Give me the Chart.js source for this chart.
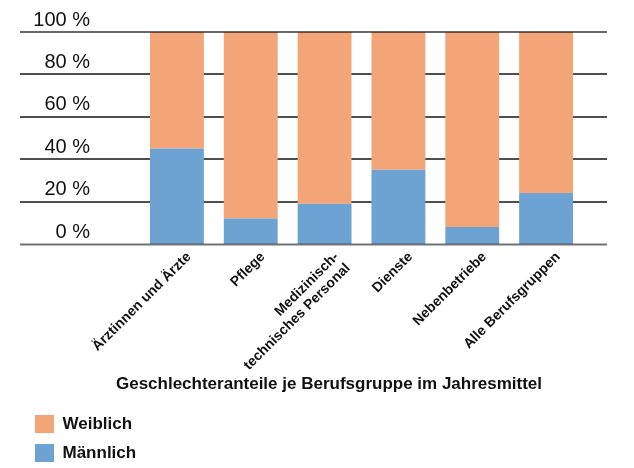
<!DOCTYPE html>
<html lang="de">
<head>
<meta charset="utf-8">
<title>Geschlechteranteile je Berufsgruppe</title>
<script src="https://cdn.jsdelivr.net/npm/chart.js@4.4.1/dist/chart.umd.min.js"></script>
<style>
  html, body { margin: 0; padding: 0; background: #fff; }
  #wrap { width: 634px; height: 468px; position: relative; }
</style>
</head>
<body>
<div id="wrap"><canvas id="chart"></canvas></div>
<script>
// Berufsgruppen (multi-line label as array)
const categories = [
  'Ärztinnen und Ärzte',
  'Pflege',
  ['Medizinisch-', 'technisches Personal'],
  'Dienste',
  'Nebenbetriebe',
  'Alle Berufsgruppen'
];

// Anteile in Prozent
const maennlich = [45, 12, 19, 35, 8, 24];
const weiblich  = [55, 88, 81, 65, 92, 76];

// Beschriftung der y-Achse
const yTickValues = [0, 20, 40, 60, 80, 100];
const yTickLabels = ['0 %', '20 %', '40 %', '60 %', '80 %', '100 %'];

const FONT = "'Liberation Sans', Arial, Helvetica, sans-serif";
const COLOR_W = '#F4A578';
const COLOR_M = '#6CA3D3';

// Invisible trailing spaces widen each legend entry so that the
// entries stack one per row instead of sharing a line.
const LEGEND_ROW_FILL = '\u2003'.repeat(24);

// Horizontal rules across the full plot width, at each y tick.
// Inner rules sit behind the bars, the 0 % and 100 % rules on top of them.
const ruleLines = {
  id: 'ruleLines',
  drawRules(chart, outer) {
    const y = chart.scales.y;
    const ctx = chart.ctx;
    const x0 = y.left - 4;
    const x1 = chart.chartArea.right + 24;
    ctx.save();
    yTickValues.forEach(v => {
      const isOuter = (v === 0 || v === 100);
      if (isOuter !== outer) return;
      const py = Math.round(y.getPixelForValue(v));
      ctx.beginPath();
      if (v === 0) {
        ctx.strokeStyle = 'rgba(60,60,60,0.72)';
        ctx.lineWidth = 2;
        ctx.moveTo(x0, py + 0.5);
        ctx.lineTo(x1, py + 0.5);
      } else if (v === 100) {
        ctx.strokeStyle = 'rgba(20,20,20,0.85)';
        ctx.lineWidth = 1.5;
        ctx.moveTo(x0, py);
        ctx.lineTo(x1, py);
      } else {
        ctx.strokeStyle = 'rgba(0,0,0,0.92)';
        ctx.lineWidth = 1.4;
        ctx.moveTo(x0, py);
        ctx.lineTo(x1, py);
      }
      ctx.stroke();
    });
    ctx.restore();
  },
  beforeDatasetsDraw(chart) { this.drawRules(chart, false); },
  afterDatasetsDraw(chart) { this.drawRules(chart, true); }
};

new Chart(document.getElementById('chart'), {
  type: 'bar',
  data: {
    labels: categories,
    datasets: [
      {
        label: 'Männlich',
        data: maennlich,
        backgroundColor: COLOR_M,
        borderWidth: 0
      },
      {
        label: 'Weiblich',
        data: weiblich,
        backgroundColor: COLOR_W,
        borderWidth: 0
      }
    ]
  },
  options: {
    responsive: true,
    maintainAspectRatio: false,
    animation: false,
    layout: { padding: { top: 32, left: 24, right: 0, bottom: -4 } },
    datasets: {
      bar: { categoryPercentage: 1.0, barPercentage: 0.73 }
    },
    scales: {
      x: {
        stacked: true,
        grid: { display: false, drawTicks: false },
        border: { display: false },
        ticks: {
          autoSkip: false,
          maxRotation: 45,
          minRotation: 45,
          padding: 5,
          labelOffset: 12,
          color: '#111',
          font: { family: FONT, size: 14, weight: 'bold', lineHeight: 1.15 }
        },
        afterFit(scale) {
          scale.height = 128;
          scale.paddingLeft = 0;
          scale.paddingRight = 0;
        }
      },
      y: {
        stacked: true,
        min: 0,
        max: 100,
        grid: { display: false, drawTicks: false },
        border: { display: false },
        afterBuildTicks(scale) {
          scale.ticks = yTickValues.map(v => ({ value: v }));
        },
        ticks: {
          padding: 50,
          labelOffset: -12,
          color: '#111',
          font: { family: FONT, size: 20 },
          callback(value) {
            const i = yTickValues.indexOf(value);
            return i >= 0 ? yTickLabels[i] : '';
          }
        },
        afterFit(scale) {
          scale.width = 116;
          scale.paddingTop = 0;
          scale.paddingBottom = 0;
        }
      },
      yRight: {
        position: 'right',
        display: true,
        grid: { display: false, drawTicks: false },
        border: { display: false },
        ticks: { display: false },
        afterFit(scale) {
          scale.width = 51;
          scale.paddingTop = 0;
          scale.paddingBottom = 0;
        }
      }
    },
    plugins: {
      legend: {
        display: true,
        position: 'bottom',
        align: 'start',
        reverse: true,
        weight: 1000,
        labels: {
          boxWidth: 19,
          boxHeight: 18,
          padding: 11,
          color: '#111',
          font: { family: FONT, size: 17, weight: 'bold' },
          generateLabels(chart) {
            const items = Chart.defaults.plugins.legend.labels.generateLabels(chart);
            items.forEach(item => { item.text = item.text + LEGEND_ROW_FILL; });
            return items;
          }
        }
      },
      title: {
        display: true,
        position: 'bottom',
        weight: 500,
        text: 'Geschlechteranteile je Berufsgruppe im Jahresmittel',
        color: '#111',
        font: { family: FONT, size: 17, weight: 'bold', lineHeight: 1.2 },
        padding: { top: 2, bottom: 9.6 }
      },
      tooltip: { enabled: false }
    }
  },
  plugins: [ruleLines]
});
</script>
</body>
</html>
